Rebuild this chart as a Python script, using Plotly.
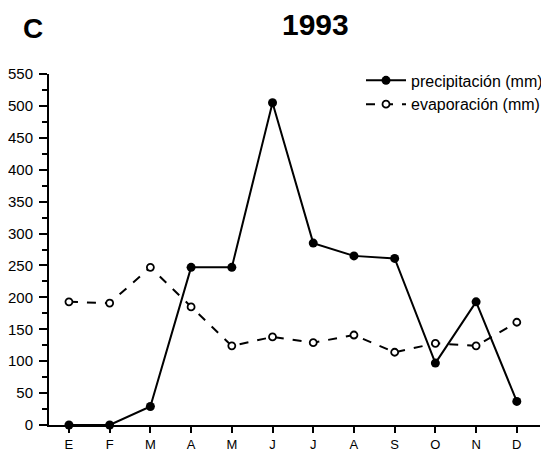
import plotly.graph_objects as go

months = ["E", "F", "M", "A", "M", "J", "J", "A", "S", "O", "N", "D"]
precipitacion = [0, 0, 29, 247, 247, 505, 285, 265, 261, 97, 193, 37]
evaporacion = [193, 191, 247, 185, 124, 138, 129, 141, 114, 128, 124, 161]
y_ticks = list(range(0, 551, 50))

x = list(range(len(months)))
FONT = "Liberation Sans, Arial, Helvetica, sans-serif"

fig = go.Figure()
fig.add_trace(go.Scatter(
    x=x, y=precipitacion, name="precipitación (mm)", mode="lines+markers",
    line=dict(color="black", width=2),
    marker=dict(symbol="circle", size=9, color="black"),
    cliponaxis=False,
))
fig.add_trace(go.Scatter(
    x=x, y=evaporacion, name="evaporación (mm)", mode="lines+markers",
    line=dict(color="black", width=2, dash="dash"),
    marker=dict(symbol="circle", size=7, color="white", line=dict(color="black", width=1.8)),
    cliponaxis=False,
))

# page body has an 8px default margin, so the figure is 8px smaller
fig.update_layout(
    width=541, height=443,
    margin=dict(l=41, r=1, t=66, b=26),
    paper_bgcolor="white", plot_bgcolor="white",
    font=dict(family=FONT, color="black", size=13),
    showlegend=True,
    legend=dict(x=1.0, y=1.03, xanchor="right", yanchor="top",
                bgcolor="rgba(0,0,0,0)", font=dict(size=16, family=FONT),
                tracegroupgap=0, itemwidth=40),
    annotations=[
        dict(text="<b>1993</b>", xref="paper", yref="paper", x=0.535, y=1.142,
             xanchor="center", yanchor="middle", showarrow=False,
             font=dict(size=30, family=FONT)),
        dict(text="<b>C</b>", xref="paper", yref="paper", x=-0.057, y=1.13,
             xanchor="left", yanchor="middle", showarrow=False,
             font=dict(size=28, family=FONT)),
    ],
)

fig.update_xaxes(
    domain=[0, 0.984],
    range=[-0.49, 11.57], tickmode="array", tickvals=x, ticktext=months,
    showgrid=False, zeroline=False, showline=True, linecolor="black", linewidth=2,
    ticks="outside", ticklen=6, tickwidth=2, tickcolor="black",
    tickfont=dict(size=13, family=FONT), automargin=False,
)
fig.update_yaxes(
    range=[0, 550], tickmode="array", tickvals=y_ticks,
    showgrid=False, zeroline=False, showline=True, linecolor="black", linewidth=2,
    ticks="outside", ticklen=8, tickwidth=2, tickcolor="black",
    tickfont=dict(size=15, family=FONT), automargin=False, ticklabelstandoff=3,
    minor=dict(dtick=25, ticks="outside", ticklen=5, tickwidth=1.5, tickcolor="black", showgrid=False),
)

fig.write_html("out.html")
